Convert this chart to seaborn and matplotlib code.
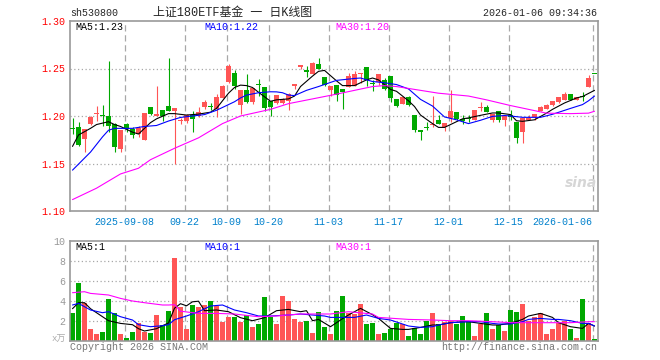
import matplotlib
matplotlib.use("Agg")
import numpy as np
import pandas as pd
import matplotlib.pyplot as plt
import seaborn as sns

# daily candles (88 trading days, 2025-08-26 .. 2026-01-06)
opens = [1.187, 1.188, 1.176, 1.192, 1.202, 1.201, 1.200, 1.192, 1.165, 1.1915,
         1.186, 1.181, 1.175, 1.209, 1.200, 1.206, 1.211, 1.205, 1.1947, 1.195,
         1.201, 1.200, 1.209, 1.2102, 1.207, 1.219, 1.236, 1.245, 1.212, 1.227,
         1.2145, 1.2335, 1.231, 1.2155, 1.2137, 1.2137, 1.2155, 1.2313, 1.2514, 1.2482,
         1.2447, 1.2549, 1.2412, 1.2271, 1.2331, 1.2285, 1.2306, 1.232, 1.2437, 1.2514,
         1.2342, 1.2359, 1.2377, 1.2419, 1.218, 1.213, 1.2197, 1.2007, 1.1852, 1.1877,
         1.1905, 1.1954, 1.1884, 1.1979, 1.2039, 1.1968, 1.1975, 1.1961, 1.2088, 1.2095,
         1.1954, 1.2049, 1.1954, 1.2007, 1.1933, 1.1827, 1.1954, 1.1989, 1.2049, 1.2074,
         1.212, 1.2148, 1.2173, 1.2236, 1.2173, 1.2204, 1.2306, 1.2447]
highs = [1.198, 1.194, 1.186, 1.200, 1.211, 1.212, 1.258, 1.193, 1.185, 1.1925,
         1.188, 1.190, 1.2035, 1.210, 1.232, 1.206, 1.261, 1.208, 1.198, 1.2025,
         1.205, 1.2095, 1.2165, 1.214, 1.223, 1.233, 1.255, 1.248, 1.227, 1.244,
         1.2295, 1.2385, 1.231, 1.2155, 1.2225, 1.219, 1.2243, 1.2342, 1.2542, 1.2525,
         1.257, 1.2613, 1.2412, 1.232, 1.2331, 1.2285, 1.2454, 1.2472, 1.2454, 1.2514,
         1.2384, 1.2447, 1.2401, 1.2419, 1.218, 1.2197, 1.2208, 1.2014, 1.1852, 1.1933,
         1.2208, 1.201, 1.1926, 1.2271, 1.2039, 1.2014, 1.2014, 1.2067, 1.2148, 1.2113,
         1.2021, 1.2049, 1.2014, 1.2067, 1.1933, 1.1979, 1.2014, 1.2025, 1.2109, 1.213,
         1.2162, 1.2197, 1.225, 1.2236, 1.2201, 1.225, 1.243, 1.2447]
lows = [1.181, 1.168, 1.162, 1.191, 1.195, 1.189, 1.183, 1.162, 1.162, 1.1835,
        1.177, 1.178, 1.1747, 1.201, 1.1995, 1.195, 1.205, 1.1496, 1.192, 1.193,
        1.183, 1.199, 1.207, 1.206, 1.199, 1.219, 1.235, 1.228, 1.202, 1.214,
        1.213, 1.221, 1.205, 1.2005, 1.213, 1.2127, 1.206, 1.2285, 1.250, 1.2412,
        1.2447, 1.250, 1.232, 1.2208, 1.2162, 1.2077, 1.2306, 1.232, 1.2349, 1.232,
        1.226, 1.2331, 1.2278, 1.2148, 1.2095, 1.213, 1.2102, 1.1827, 1.1743, 1.1849,
        1.1884, 1.1919, 1.1838, 1.1933, 1.1961, 1.1919, 1.1933, 1.1961, 1.2056, 1.2042,
        1.1937, 1.1933, 1.1898, 1.1961, 1.1718, 1.1718, 1.1954, 1.1954, 1.2049, 1.2074,
        1.2109, 1.2137, 1.2165, 1.2165, 1.2173, 1.2155, 1.2306, 1.2447]
closes = [1.186, 1.169, 1.186, 1.199, 1.203, 1.200, 1.189, 1.167, 1.185, 1.1865,
          1.180, 1.187, 1.2035, 1.202, 1.202, 1.200, 1.205, 1.208, 1.196, 1.201,
          1.197, 1.2046, 1.215, 1.2099, 1.220, 1.232, 1.253, 1.232, 1.227, 1.215,
          1.229, 1.233, 1.2085, 1.2095, 1.2225, 1.218, 1.2232, 1.2342, 1.2542, 1.2461,
          1.256, 1.250, 1.2331, 1.232, 1.2218, 1.225, 1.2426, 1.2447, 1.2454, 1.2384,
          1.2338, 1.2447, 1.2289, 1.219, 1.2102, 1.2197, 1.2113, 1.1849, 1.1835, 1.1873,
          1.1908, 1.1919, 1.1926, 1.2049, 1.1972, 1.1951, 1.1972, 1.2067, 1.2092, 1.2042,
          1.2021, 1.1961, 1.1996, 1.1993, 1.1764, 1.1979, 1.1979, 1.2025, 1.2095, 1.212,
          1.2162, 1.2197, 1.2236, 1.2173, 1.2201, 1.2197, 1.2401, 1.2446]
volumes = [2.8, 5.8, 3.73, 1.13, 0.67, 0.9, 4.17, 2.8, 0.67, 0.3,
           0.9, 1.73, 0.9, 0.8, 2.57, 1.57, 3.0, 8.3, 3.4, 1.17,
           3.57, 3.33, 3.57, 4.0, 3.47, 1.9, 2.4, 2.4, 1.9, 2.57,
           1.4, 1.67, 4.4, 2.33, 1.67, 4.5, 4.0, 2.13, 1.9, 2.0,
           0.8, 2.9, 1.33, 0.67, 2.97, 4.47, 2.8, 2.67, 3.67, 1.67,
           1.73, 0.67, 0.73, 1.17, 1.73, 1.67, 0.47, 1.23, 0.67, 2.0,
           2.8, 1.67, 1.9, 2.0, 1.67, 2.47, 2.0, 0.47, 1.67, 2.8,
           1.13, 1.57, 1.0, 3.07, 2.9, 3.67, 2.0, 2.33, 2.73, 0.67,
           1.13, 1.73, 2.0, 1.17, 0.3, 4.17, 1.73, 0.2]

tick_pos = [9, 19, 26, 33, 43, 53, 63, 73, 87]
tick_labels = ["2025-09-08", "09-22", "10-09", "10-20", "11-03",
               "11-17", "12-01", "12-15", "2026-01-06"]

# moving averages as drawn (read at sample bars)
ma5_idx = [0, 1, 3, 4, 6, 7, 8, 10, 11, 12, 13, 14, 16, 17, 19, 21, 23, 24, 26, 27,
           28, 29, 30, 31, 33, 34, 36, 37, 38, 40, 41, 42, 44, 45, 47, 48, 49, 50, 51, 53,
           54, 56, 57, 58, 60, 61, 62, 63, 65, 66, 68, 70, 71, 73, 74, 75, 77, 79, 80, 82,
           84, 85, 87]
ma5_val = [1.168, 1.180, 1.187, 1.191, 1.194, 1.191, 1.189, 1.183, 1.181, 1.187, 1.193, 1.197,
           1.2025, 1.2025, 1.201, 1.202, 1.204, 1.208, 1.224, 1.230, 1.2325, 1.232, 1.230,
           1.225, 1.2155, 1.217, 1.218, 1.221, 1.231, 1.242, 1.247, 1.248, 1.237, 1.232,
           1.232, 1.235, 1.238, 1.240, 1.238, 1.228, 1.226, 1.216, 1.210, 1.201, 1.192,
           1.188, 1.188, 1.191, 1.197, 1.198, 1.2007, 1.2032, 1.2032, 1.2015, 1.195,
           1.1944, 1.196, 1.203, 1.207, 1.2137, 1.219, 1.2205, 1.227]
ma10_idx = [0, 3, 4, 5, 6, 7, 10, 12, 14, 16, 18, 20, 22, 24, 25, 27, 28, 29, 31, 33,
            34, 35, 36, 37, 39, 41, 44, 47, 48, 50, 52, 54, 56, 58, 60, 62, 64, 66, 68, 70,
            72, 73, 75, 78, 80, 83, 85, 86, 87]
ma10_val = [1.143, 1.162, 1.170, 1.178, 1.185, 1.187, 1.187, 1.189, 1.190, 1.1947, 1.1985,
            1.200, 1.2015, 1.206, 1.209, 1.215, 1.219, 1.222, 1.2245, 1.2255, 1.2254,
            1.2245, 1.222, 1.2215, 1.227, 1.231, 1.2375, 1.2395, 1.240, 1.2363, 1.235,
            1.2331, 1.2285, 1.2175, 1.2105, 1.199, 1.196, 1.192, 1.1955, 1.1996, 1.2005,
            1.200, 1.1986, 1.1986, 1.2018, 1.208, 1.212, 1.216, 1.221]
ma30_idx = [0, 4, 8, 11, 13, 17, 21, 25, 28, 33, 36, 40, 44, 47, 50, 52, 54, 57, 59,
            61, 66, 69, 73, 76, 79, 83, 86, 87]
ma30_val = [1.112, 1.124, 1.139, 1.145, 1.154, 1.166, 1.177, 1.192, 1.200, 1.207, 1.213,
            1.218, 1.223, 1.227, 1.231, 1.232, 1.231, 1.228, 1.226, 1.224, 1.221, 1.217,
            1.211, 1.207, 1.203, 1.2025, 1.203, 1.205]

vma5_idx = [0, 1, 2, 3, 5, 6, 8, 10, 11, 12, 14, 15, 16, 17, 18, 19, 20, 21, 22, 24,
            26, 28, 30, 32, 34, 36, 38, 39, 40, 41, 43, 45, 46, 48, 50, 51, 53, 55, 56, 58,
            60, 61, 63, 65, 66, 68, 70, 71, 73, 75, 76, 78, 80, 81, 83, 85, 86, 87]
vma5_val = [3.2, 3.8, 3.8, 3.2, 2.4, 2.0, 1.73, 1.6, 1.2, 0.97, 1.2, 1.5, 1.77, 3.25, 3.7,
            3.49, 3.89, 3.95, 3.0, 3.07, 2.9, 2.3, 2.0, 2.3, 3.0, 3.13, 2.9, 3.0, 2.0, 2.13,
            1.4, 2.2, 2.57, 3.23, 2.6, 2.23, 1.23, 1.13, 1.13, 1.33, 1.57, 1.57, 1.8, 1.9,
            1.9, 1.73, 1.57, 1.57, 1.73, 2.13, 2.47, 2.73, 2.33, 1.8, 1.4, 1.23, 1.73, 1.47]
vma10_idx = [0, 1, 3, 5, 6, 8, 10, 11, 13, 15, 16, 17, 19, 21, 23, 25, 27, 29, 31, 33,
             36, 38, 40, 42, 43, 47, 49, 51, 53, 55, 56, 58, 60, 61, 63, 65, 66, 68, 70, 71,
             73, 75, 76, 78, 80, 81, 83, 85, 86, 87]
vma10_val = [3.57, 3.73, 3.07, 2.8, 2.9, 2.4, 2.07, 1.6, 1.4, 1.5, 1.6, 2.1, 2.47, 2.9, 3.47,
             3.57, 3.07, 2.8, 2.47, 2.47, 2.57, 2.67, 2.57, 2.47, 2.33, 2.33, 2.57, 2.23,
             2.07, 1.67, 1.47, 1.33, 1.4, 1.57, 1.8, 1.87, 1.9, 1.9, 1.73, 1.67, 1.67, 1.9,
             2.13, 2.23, 2.13, 2.13, 2.0, 1.73, 1.73, 1.47]
vma30_idx = [0, 2, 3, 6, 8, 10, 12, 15, 16, 17, 18, 21, 24, 27, 29, 31, 34, 36, 38, 43,
             46, 50, 51, 56, 60, 63, 66, 70, 73, 83, 86, 87]
vma30_val = [4.8, 4.9, 4.73, 4.57, 4.23, 3.97, 3.8, 3.57, 3.57, 3.6, 2.95, 2.73, 2.73, 2.67,
             2.53, 2.4, 2.47, 2.57, 2.67, 2.67, 2.9, 2.67, 2.33, 2.13, 2.07, 2.0, 2.0, 1.9,
             1.8, 1.8, 1.9, 1.9]

sns.set_style("white")
plt.rcParams["font.family"] = ["Liberation Mono", "Noto Sans CJK SC", "DejaVu Sans"]

UP = "#ff5555"
DOWN = "#00a800"
GRID = "#a8a8a8"
FRAME = "#999999"
OFF = 2.5 / 6  # bar centre inside its 6px slot
LW = 0.8


def fx(px):
    return px / 660


def fy(py):
    return 1 - py / 360


fig = plt.figure(figsize=(6.6, 3.6), dpi=100)
ax = fig.add_axes([fx(70), fy(211), 528 / 660, 190 / 360])
axv = fig.add_axes([fx(70), fy(340.7), 528 / 660, 100 / 360])

df = pd.DataFrame({"open": opens, "high": highs, "low": lows,
                   "close": closes, "volume": volumes})
df["x"] = np.arange(len(df)) + OFF
df["color"] = np.where(df["close"] > df["open"], UP, DOWN)

for a in (ax, axv):
    a.set_xlim(0, len(df))
    for p in tick_pos:
        a.axvline(p + 0.1, color=GRID, lw=0.9, ls=(0, (5, 3)), zorder=0)
    for s in a.spines.values():
        s.set_color(FRAME)
        s.set_linewidth(1.2)
    a.tick_params(length=0)

# price panel
ax.set_ylim(1.10, 1.30)
for y in [1.15, 1.20, 1.25]:
    ax.axhline(y, color=GRID, lw=0.9, ls=(0, (1, 2)), zorder=0)

ax.vlines(df["x"], df["low"], df["high"], colors=df["color"], lw=LW, zorder=2)
body = (df["close"] - df["open"]).abs().clip(lower=0.0011)
ax.bar(df["x"], body, bottom=df[["open", "close"]].min(axis=1), width=5 / 6,
       color=df["color"], lw=0, zorder=3)

sns.lineplot(x=np.array(ma5_idx) + OFF, y=ma5_val, ax=ax, color="black", lw=LW, zorder=4)
sns.lineplot(x=np.array(ma10_idx) + OFF, y=ma10_val, ax=ax, color="#0000ff", lw=LW, zorder=4)
sns.lineplot(x=np.array(ma30_idx) + OFF, y=ma30_val, ax=ax, color="#ff00ff", lw=LW, zorder=4)

ax.set_yticks([1.10, 1.15, 1.20, 1.25, 1.30])
ax.set_yticklabels(["1.10", "1.15", "1.20", "1.25", "1.30"], color="#ff0000", fontsize=7.2)
ax.tick_params(axis="y", pad=3.5)
ax.set_xticks(tick_pos)
ax.set_xticklabels(tick_labels, color="#0080cc", fontsize=7.2)
ax.tick_params(axis="x", pad=4.5)
ax.get_xticklabels()[-1].set_horizontalalignment("right")
ax.set_xlabel("")
ax.set_ylabel("")

# volume panel
axv.set_ylim(0, 10)
for y in [2, 4, 6, 8]:
    axv.axhline(y, color=GRID, lw=0.9, ls=(0, (1, 2)), zorder=0)
axv.bar(df["x"], df["volume"], width=5 / 6, color=df["color"], lw=0, zorder=2)
sns.lineplot(x=np.array(vma5_idx) + OFF, y=vma5_val, ax=axv, color="black", lw=LW, zorder=4)
sns.lineplot(x=np.array(vma10_idx) + OFF, y=vma10_val, ax=axv, color="#0000ff", lw=LW, zorder=4)
sns.lineplot(x=np.array(vma30_idx) + OFF, y=vma30_val, ax=axv, color="#ff00ff", lw=LW, zorder=4)
axv.set_yticks([2, 4, 6, 8, 10])
axv.set_yticklabels(["2", "4", "6", "8", "10"], color="#999999", fontsize=7.2)
axv.tick_params(axis="y", pad=3.5)
axv.set_xticks([])
axv.set_xlabel("")
axv.set_ylabel("")

# header and labels
fig.text(fx(70), fy(13.5), "sh530800", ha="left", va="center", fontsize=7.2)
fig.text(fx(233), fy(13), "上证180ETF基金 一 日K线图", ha="center", va="center", fontsize=8.6)
fig.text(fx(597), fy(12.7), "2026-01-06 09:34:36", ha="right", va="center", fontsize=7.2)

fig.text(fx(75), fy(26.5), "MA5:1.23", ha="left", va="center", fontsize=7.2, color="black")
fig.text(fx(204), fy(26.5), "MA10:1.22", ha="left", va="center", fontsize=7.2, color="#0000ff")
fig.text(fx(335), fy(26.5), "MA30:1.20", ha="left", va="center", fontsize=7.2, color="#ff00ff")
fig.text(fx(75), fy(246.7), "MA5:1", ha="left", va="center", fontsize=7.2, color="black")
fig.text(fx(204), fy(246.7), "MA10:1", ha="left", va="center", fontsize=7.2, color="#0000ff")
fig.text(fx(335), fy(246.7), "MA30:1", ha="left", va="center", fontsize=7.2, color="#ff00ff")

fig.text(fx(66), fy(339.5), "x万", ha="right", va="center", fontsize=6.5, color="#aaaaaa")
fig.text(fx(70), fy(346.5), "Copyright 2026 SINA.COM", ha="left", va="center",
         fontsize=7.2, color="#777777")
fig.text(fx(597), fy(346.5), "http://finance.sina.com.cn", ha="right", va="center",
         fontsize=7.2, color="#777777")
fig.text(fx(581), fy(183), "sina", ha="center", va="center", fontsize=10,
         fontweight="bold", fontstyle="italic", family="DejaVu Sans", color="#d6d6d6")

fig.savefig("out.png", dpi=100)
